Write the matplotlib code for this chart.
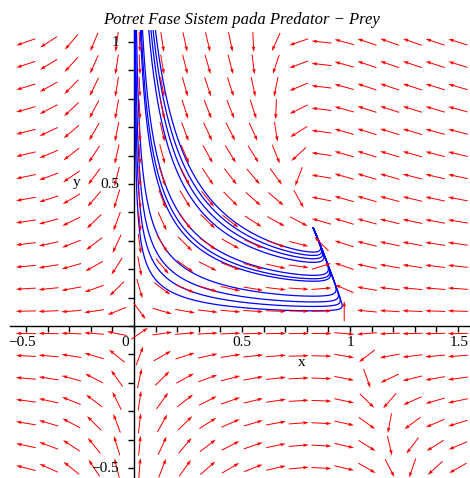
import numpy as np
import matplotlib
matplotlib.use("Agg")
import matplotlib.pyplot as plt

# ---- predator-prey model (logistic prey, Holling type III response) ----
attack = 1.0        # predation coefficient in the prey equation
half_sat = 1.0      # k in x^2 / (k + x^2)
death = 0.5         # predator mortality
conversion = 1.225  # predator gain from predation

# direction field grid
x_range = (-0.5, 1.5)
y_range = (-0.5, 1.0)
n_arrows = 20

# initial states of the plotted trajectories
init_x = [0.100, 0.089, 0.079, 0.069, 0.040, 0.034, 0.030,
          0.012, 0.0075, 0.0048, 0.0028]
init_y = [1.04, 1.04, 1.04, 1.04, 1.04, 1.04, 1.04,
          1.04, 1.04, 1.04, 1.04]
t_end = 150.0
dt = 0.01

title = "Potret Fase Sistem pada Predator \u2212 Prey"
x_tick_text = ["\u22120.5", "0", "0.5", "1", "1.5"]
y_tick_vals = [1.0, 0.5, -0.5]
y_tick_text = ["1", "0.5", "\u22120.5"]


def field(x, y):
    r = x ** 2 / (half_sat + x ** 2)
    dx = x * (1.0 - x) - attack * r * y
    dy = y * (-death + conversion * r)
    return dx, dy


def integrate(x0, y0):
    x = np.array(x0, dtype=float)
    y = np.array(y0, dtype=float)
    n = int(t_end / dt)
    xs = np.empty((n + 1, x.size))
    ys = np.empty((n + 1, x.size))
    xs[0], ys[0] = x, y
    for i in range(n):
        k1x, k1y = field(x, y)
        k2x, k2y = field(x + 0.5 * dt * k1x, y + 0.5 * dt * k1y)
        k3x, k3y = field(x + 0.5 * dt * k2x, y + 0.5 * dt * k2y)
        k4x, k4y = field(x + dt * k3x, y + dt * k3y)
        x = x + dt / 6.0 * (k1x + 2 * k2x + 2 * k3x + k4x)
        y = y + dt / 6.0 * (k1y + 2 * k2y + 2 * k3y + k4y)
        xs[i + 1], ys[i + 1] = x, y
    return xs, ys


W, H = 470, 478
fig = plt.figure(figsize=(W / 100, H / 100), dpi=100)
ax = fig.add_axes([0, 0, 1, 1])
xlim = (-0.62, 1.556)
ylim = (-0.535, 1.148)
ax.set_xlim(*xlim)
ax.set_ylim(*ylim)
sx = W / (xlim[1] - xlim[0])
sy = H / (ylim[1] - ylim[0])

serif = "Liberation Serif"

# axes through the origin
for side in ("top", "right"):
    ax.spines[side].set_visible(False)
ax.spines["bottom"].set_position(("data", 0))
ax.spines["left"].set_position(("data", 0))
ax.spines["bottom"].set_bounds(-0.575, 1.556)
ax.spines["left"].set_bounds(ylim[0], 1.042)
for s in ("bottom", "left"):
    ax.spines[s].set_linewidth(1.0)
    ax.spines[s].set_zorder(1)
ax.set_xticks(np.round(np.arange(-0.5, 1.51, 0.1), 2))
ax.set_yticks(np.round(np.arange(-0.5, 1.01, 0.1), 2))
ax.tick_params(axis="both", direction="out", length=4, width=1,
               labelbottom=False, labelleft=False)

# trajectories
xs, ys = integrate(init_x, init_y)
for j in range(xs.shape[1]):
    ax.plot(xs[:, j], ys[:, j], color="#0000ff", lw=0.9, zorder=2)

# direction field, arrows of equal on-screen length
gx, gy = np.meshgrid(np.linspace(*x_range, n_arrows), np.linspace(*y_range, n_arrows))
fx, fy = field(gx, gy)
u = fx * sx
v = fy * sy
mag = np.hypot(u, v)
mag[mag == 0] = 1.0
L = 20.0
ax.quiver(gx, gy, u / mag * L, v / mag * L, angles="uv", scale_units="dots",
          scale=1.0, units="dots", width=1.0, headwidth=3.5, headlength=5.5,
          headaxislength=5.0, pivot="mid", color="#ff0000", zorder=3)

# tick labels
x_label_pos = [-0.516, -0.042, 0.502, 1.002, 1.505]
for xv, t in zip(x_label_pos, x_tick_text):
    ax.text(xv, -0.058, t, ha="center", va="center", fontsize=11,
            family=serif, zorder=4)
for yv, t in zip(y_tick_vals, y_tick_text):
    ax.text(-0.069, yv, t, ha="right", va="center", fontsize=11,
            family=serif, zorder=4)

ax.text(0.778, -0.13, "x", ha="center", va="center", fontsize=11, family=serif)
ax.text(-0.264, 0.507, "y", ha="center", va="center", fontsize=11, family=serif)
ax.text(0.5, 1.078, title, ha="center", va="center", fontsize=12,
        family=serif, style="italic")

fig.savefig("out.png", dpi=100)
